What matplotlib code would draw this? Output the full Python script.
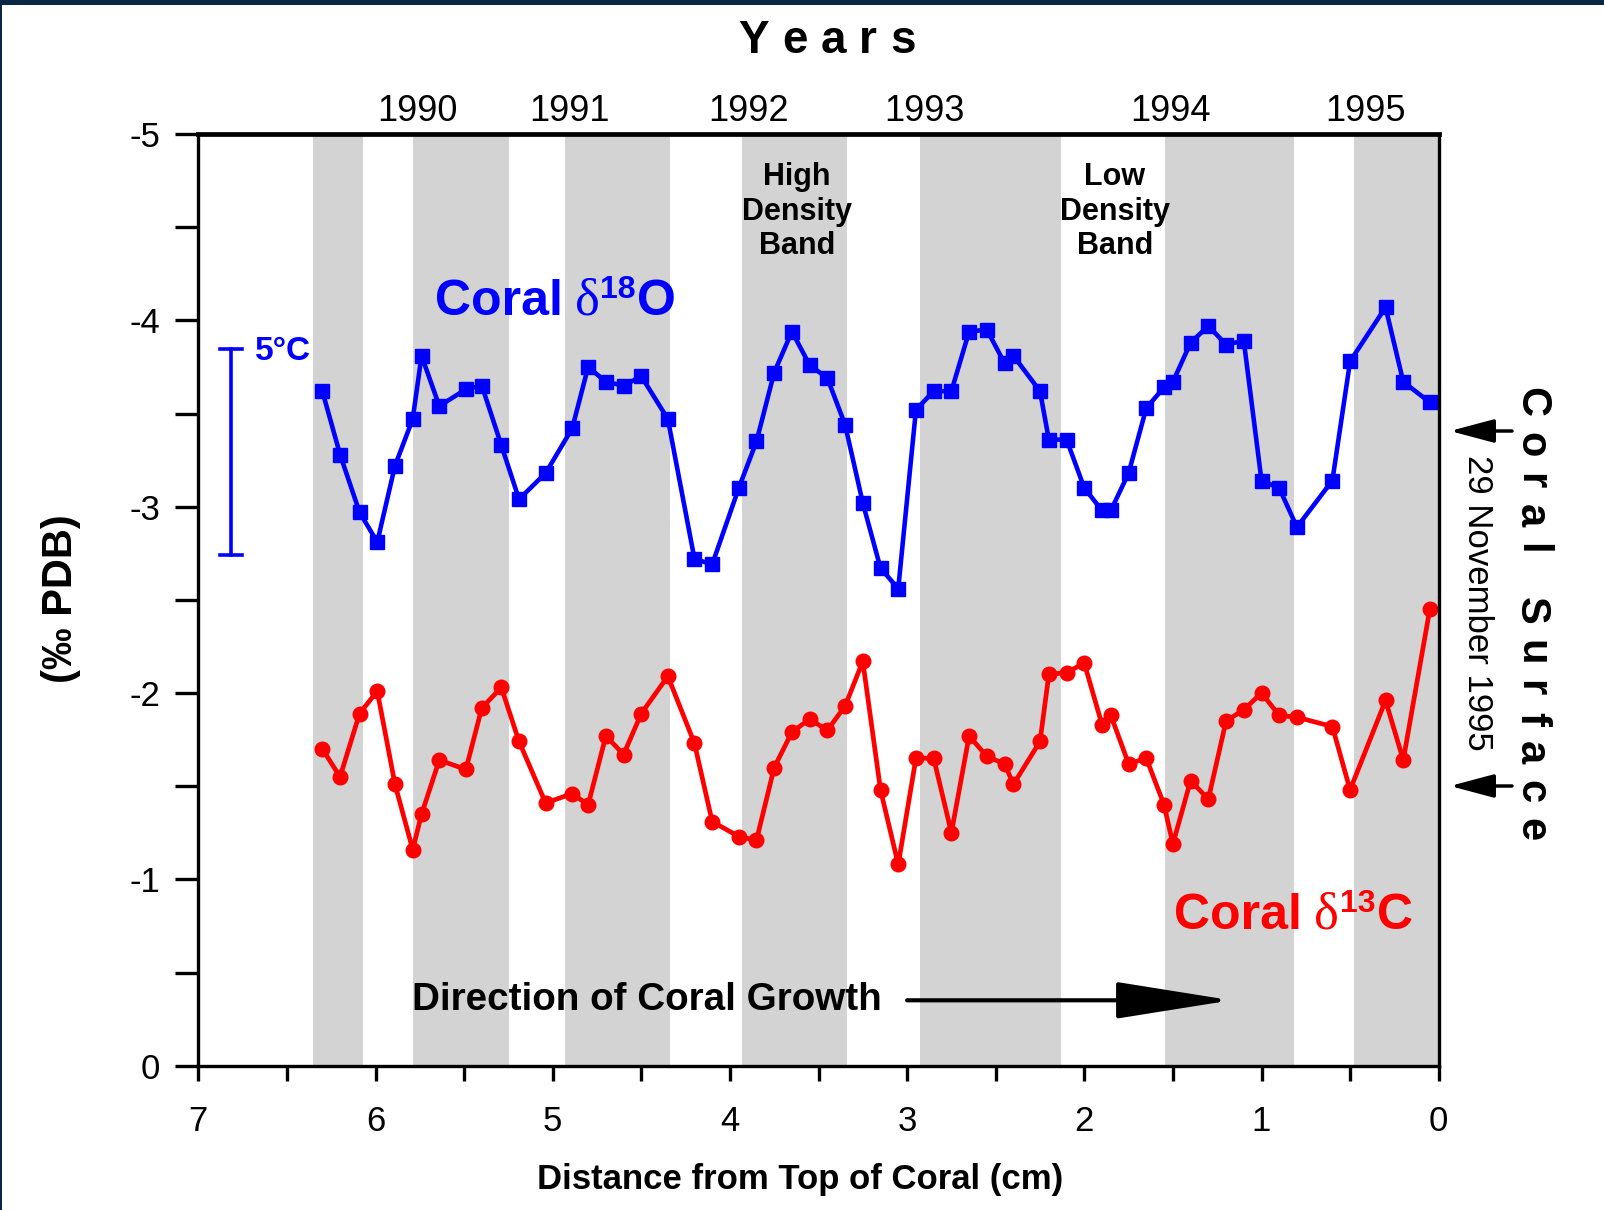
import matplotlib
matplotlib.use("Agg")
import matplotlib.pyplot as plt
from matplotlib.transforms import IdentityTransform
from matplotlib.font_manager import FontProperties
from matplotlib.patches import Rectangle

plt.rcParams['font.family'] = ['Liberation Sans', 'DejaVu Sans']

# ---------------- data ----------------
depth_cm = [6.30, 6.20, 6.09, 5.99, 5.89, 5.79, 5.74, 5.64, 5.49, 5.40,
            5.29, 5.19, 5.04, 4.89, 4.80, 4.70, 4.60, 4.50, 4.35, 4.20,
            4.10, 3.95, 3.85, 3.75, 3.65, 3.55, 3.45, 3.35, 3.25, 3.15,
            3.05, 2.95, 2.85, 2.75, 2.65, 2.55, 2.45, 2.40, 2.25, 2.20,
            2.10, 2.00, 1.90, 1.85, 1.75, 1.65, 1.55, 1.50, 1.40, 1.30,
            1.20, 1.10, 1.00, 0.90, 0.80, 0.60, 0.50, 0.30, 0.20, 0.05]

d18O = [-3.62, -3.28, -2.97, -2.81, -3.22, -3.47, -3.81, -3.54, -3.63, -3.65,
        -3.33, -3.04, -3.18, -3.42, -3.75, -3.67, -3.65, -3.70, -3.47, -2.72,
        -2.69, -3.10, -3.35, -3.72, -3.94, -3.76, -3.69, -3.44, -3.02, -2.67,
        -2.56, -3.52, -3.62, -3.62, -3.94, -3.95, -3.77, -3.81, -3.62, -3.36,
        -3.36, -3.10, -2.98, -2.98, -3.18, -3.53, -3.64, -3.67, -3.88, -3.97,
        -3.87, -3.89, -3.14, -3.10, -2.89, -3.14, -3.78, -4.07, -3.67, -3.56]

d13C = [-1.70, -1.55, -1.89, -2.01, -1.51, -1.16, -1.35, -1.64, -1.59, -1.92,
        -2.03, -1.74, -1.41, -1.46, -1.40, -1.77, -1.67, -1.89, -2.09, -1.73,
        -1.31, -1.23, -1.21, -1.60, -1.79, -1.86, -1.80, -1.93, -2.17, -1.48,
        -1.08, -1.65, -1.65, -1.25, -1.77, -1.66, -1.62, -1.51, -1.74, -2.10,
        -2.11, -2.16, -1.83, -1.88, -1.62, -1.65, -1.40, -1.19, -1.53, -1.43,
        -1.85, -1.91, -2.00, -1.88, -1.87, -1.82, -1.48, -1.96, -1.64, -2.45]

# high-density band extents (cm from top)
band_start = [6.35, 5.79, 4.93, 3.93, 2.93, 1.547, 0.478]
band_end = [6.07, 5.245, 4.34, 3.34, 2.133, 0.818, 0.0]

year_labels = ['1990', '1991', '1992', '1993', '1994', '1995']
year_pos = [5.764, 4.904, 3.894, 2.901, 1.515, 0.412]

x_ticks = [7, 6, 5, 4, 3, 2, 1, 0]
y_ticks = [-5, -4, -3, -2, -1, 0]

# ---------------- figure ----------------
W, H = 1604, 1210
fig = plt.figure(figsize=(W / 100, H / 100), dpi=100)
ax = fig.add_axes([198.3 / W, 1 - 1065.7 / H, (1438.7 - 198.3) / W, (1065.7 - 134) / H])

for a, b in zip(band_start, band_end):
    ax.axvspan(b, a, facecolor='#d3d3d3', edgecolor='none', zorder=0)

ax.plot(depth_cm, d18O, color='#0000ff', lw=3.3, marker='s', ms=10.5,
        mec='#0000ff', mfc='#0000ff', zorder=3, clip_on=False)
ax.plot(depth_cm, d13C, color='#ff0000', lw=3.4, marker='o', ms=10.5,
        mec='#ff0000', mfc='#ff0000', zorder=3, clip_on=False)

ax.set_xlim(7, 0)
ax.set_ylim(0, -5)
ax.set_xticks(x_ticks)
ax.set_xticks([6.5, 5.5, 4.5, 3.5, 2.5, 1.5, 0.5], minor=True)
ax.set_yticks(y_ticks)
ax.set_yticks([-4.5, -3.5, -2.5, -1.5, -0.5], minor=True)
ax.set_xticklabels([str(t) for t in x_ticks])
ax.set_yticklabels([str(t) for t in y_ticks])
ax.tick_params(axis='x', which='both', direction='out', length=11, width=2.4,
               labelsize=25, pad=17)
ax.tick_params(axis='y', which='both', direction='out', length=16.5, width=2.4,
               labelsize=25, pad=11)
for sp in ax.spines.values():
    sp.set_linewidth(2.4)
    sp.set_zorder(5)
ax.spines['top'].set_linewidth(3.4)

# year labels on top
for lab, pos in zip(year_labels, year_pos):
    ax.text(pos, 1.0143, lab, transform=ax.get_xaxis_transform(), ha='center',
            va='baseline', fontsize=26)

# axis labels
fig.text(800 / W, 1 - 1179.5 / H, 'Distance from Top of Coral (cm)', ha='center',
         va='center', fontsize=25, fontweight='bold')
fig.text(61.4 / W, 1 - 598.4 / H, '(‰ PDB)', ha='center', va='center',
         fontsize=30, fontweight='bold', rotation=90)

# in-plot annotations
ax.text(3.622, -4.583, 'High\nDensity\nBand', ha='center', va='center',
        fontsize=22, fontweight='bold', linespacing=1.2, zorder=4)
ax.text(1.827, -4.583, 'Low\nDensity\nBand', ha='center', va='center',
        fontsize=22, fontweight='bold', linespacing=1.2, zorder=4)
ax.text(5.793, -0.351, 'Direction of Coral Growth', ha='left', va='center',
        fontsize=27.8, fontweight='bold', zorder=4)
ax.annotate('', xy=(1.17, -0.351), xytext=(3.0, -0.351),
            arrowprops=dict(arrowstyle='-|>,head_length=7.2,head_width=1.15',
                            mutation_scale=10, lw=3, color='black',
                            shrinkA=0, shrinkB=0), zorder=4)

# 5 degC scale bar
bar_x = 6.815
ax.plot([bar_x, bar_x], [-3.846, -2.739], color='#0000ff', lw=2.6, zorder=3)
ax.plot([6.878, 6.752], [-3.846, -3.846], color='#0000ff', lw=2.6, zorder=3)
ax.plot([6.878, 6.752], [-2.739, -2.739], color='#0000ff', lw=2.6, zorder=3)
ax.text(6.68, -3.787, '5°C', ha='left', va='baseline', fontsize=24,
        fontweight='bold', color='#0000ff', zorder=4)

renderer = fig.canvas.get_renderer()
idt = IdentityTransform()


def chain(d, v, parts, color):
    x, y = ax.transData.transform((d, v))
    for s, kw, gap, dy in parts:
        x += gap
        t = fig.text(x, y + dy, s, transform=idt, ha='left', va='baseline',
                     color=color, **kw)
        bb = t.get_window_extent(renderer)
        x = bb.x1


sans_b = dict(fontsize=36, fontweight='bold')
serif = dict(fontsize=38, family=['Liberation Serif', 'DejaVu Serif'])
sup = dict(fontsize=23, fontweight='bold')
chain(5.666, -4.029, [('Coral', sans_b, 0, 0), ('δ', serif, 12, 0),
                      ('18', sup, 1, 17), ('O', sans_b, 1, 0)], '#0000ff')
chain(1.492, -0.735, [('Coral', sans_b, 0, 0), ('δ', serif, 12, 0),
                      ('13', sup, 1, 17), ('C', sans_b, 1, 0)], '#ff0000')


def spaced(text, x0, y0, target, rotation, fontsize, weight):
    fp = FontProperties(family=['Liberation Sans', 'DejaVu Sans'],
                        size=fontsize, weight=weight)
    widths = []
    for c in text:
        if c == ' ':
            w1 = renderer.get_text_width_height_descent('x x', fp, ismath=False)[0]
            w2 = renderer.get_text_width_height_descent('xx', fp, ismath=False)[0]
            widths.append(w1 - w2)
        else:
            widths.append(renderer.get_text_width_height_descent(c, fp, ismath=False)[0])
    gap = (target - sum(widths)) / (len(text) - 1)
    pos = 0.0
    for c, w in zip(text, widths):
        if c != ' ':
            if rotation == 0:
                fig.text(x0 + pos, y0, c, transform=idt, ha='left', va='baseline',
                         rotation=0, rotation_mode='anchor', fontproperties=fp)
            else:
                fig.text(x0, y0 - pos, c, transform=idt, ha='left', va='baseline',
                         rotation=-90, rotation_mode='anchor', fontproperties=fp)
        pos += w + gap


spaced('Years', 738.5, H - 53.2, 177, 0, 33, 'bold')
spaced('Coral Surface', 1520, H - 387, 454, -90, 30, 'bold')

fig.text(1478 / W, 1 - 603 / H, '29 November 1995', ha='center', va='center',
         rotation=-90, fontsize=25)

for yy in [431, 786]:
    ax.annotate('', xy=(1450, H - yy), xytext=(1512, H - yy),
                xycoords='figure pixels', textcoords='figure pixels',
                arrowprops=dict(arrowstyle='-|>,head_length=2.7,head_width=0.72',
                                mutation_scale=10, lw=2.5, color='black',
                                shrinkA=0, shrinkB=0), annotation_clip=False)

# navy frame on top and left edges
fig.add_artist(Rectangle((0, H - 5), W, 5, transform=idt, facecolor='#0b2745',
                         edgecolor='none'))
fig.add_artist(Rectangle((0, 0), 2, H, transform=idt, facecolor='#0b2745',
                         edgecolor='none'))

fig.savefig('out.png', dpi=100)
